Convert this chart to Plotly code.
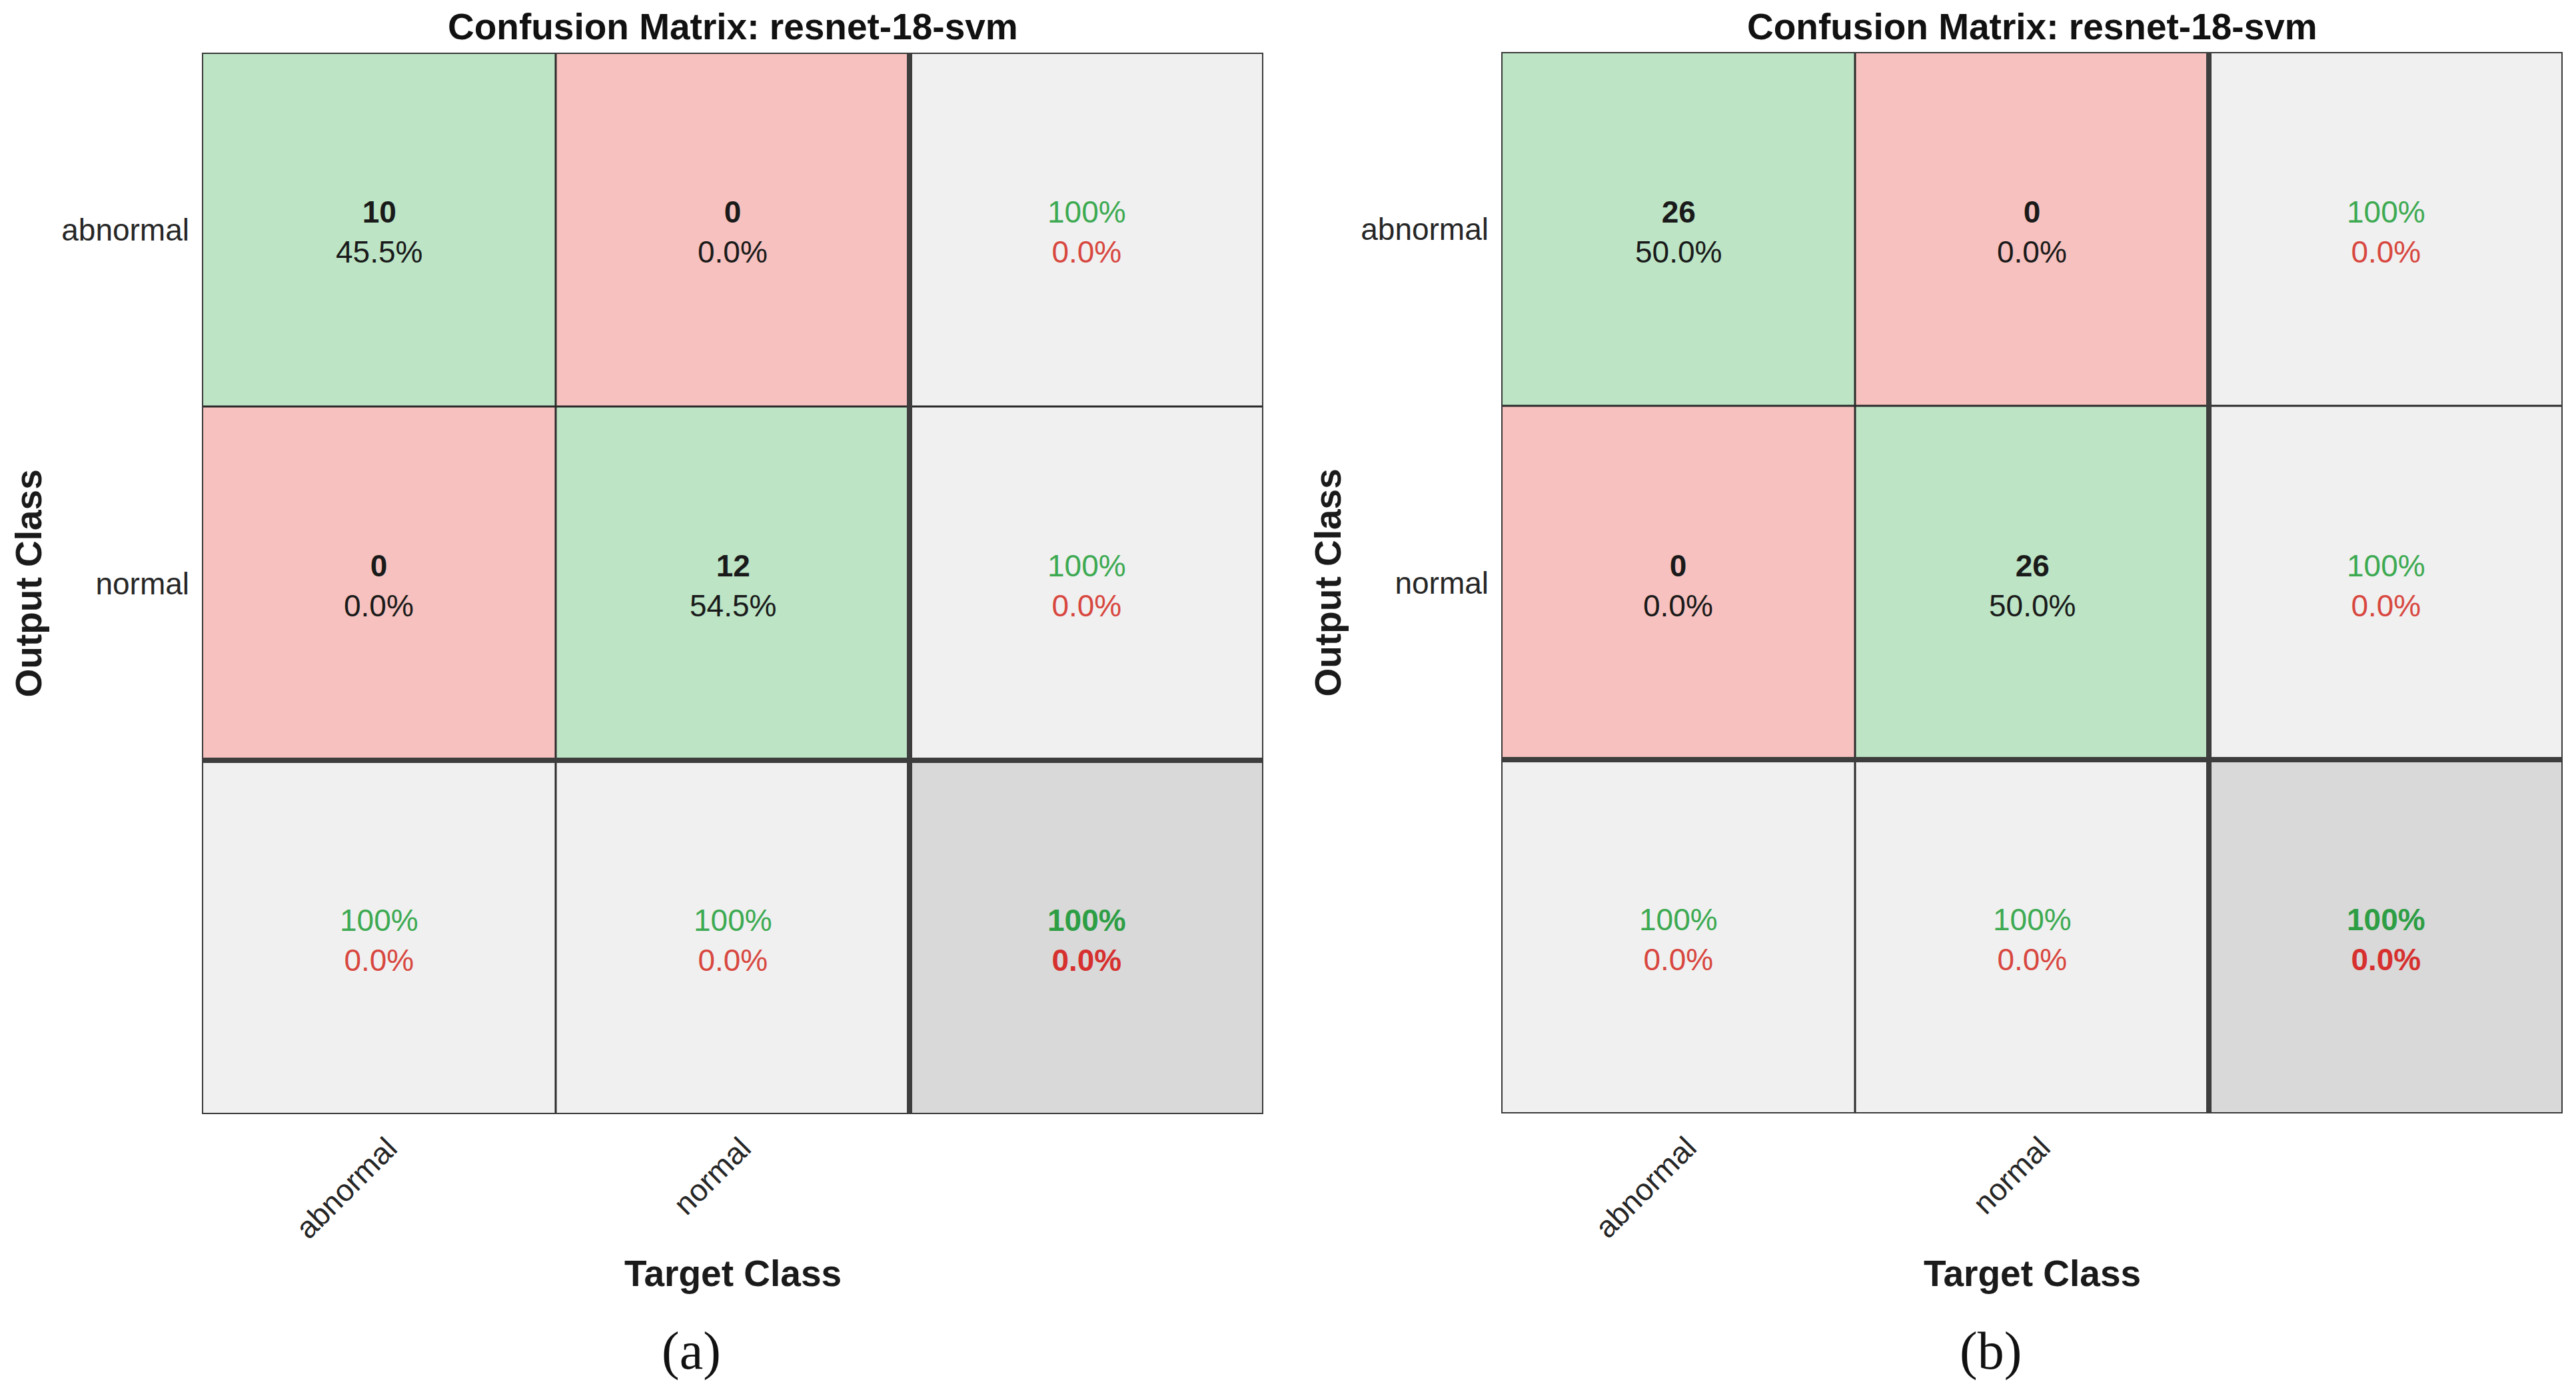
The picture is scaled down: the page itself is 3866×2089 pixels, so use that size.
import plotly.graph_objects as go

# ---------------- data ----------------
classes = ["abnormal", "normal"]
cm_a = [[10, 0], [0, 12]]   # rows: output class, cols: target class
cm_b = [[26, 0], [0, 26]]
chart_titles = ["Confusion Matrix: resnet-18-svm", "Confusion Matrix: resnet-18-svm"]
panel_labels = ["(a)", "(b)"]
x_title = "Target Class"
y_title = "Output Class"

# ---------------- style ----------------
W, H = 3866, 2089
GREEN_BG = "#BCE4C5"
RED_BG = "#F6C1BE"
LGRAY_BG = "#F0F0F0"
DGRAY_BG = "#D9D9D9"
GREEN_TX = "#3DAA52"
RED_TX = "#D8473F"
FONT = "Liberation Sans, Arial, sans-serif"

# panel pixel boxes (left, right, top, bottom)
boxes = [(303, 1896, 79, 1672), (2253, 3846, 78, 1671)]


def fmt_pct(v):
    return "100%" if abs(v - 100) < 1e-9 else f"{v:.1f}%"


def build_cells(cm):
    n = len(cm)
    total = sum(sum(r) for r in cm)
    codes = [[0] * (n + 1) for _ in range(n + 1)]
    texts = [[""] * (n + 1) for _ in range(n + 1)]
    for i in range(n):
        for j in range(n):
            codes[i][j] = 0 if i == j else 1
            texts[i][j] = f"<b>{cm[i][j]}</b><br>{cm[i][j] / total * 100:.1f}%"
    for i in range(n):
        row = sum(cm[i])
        p = cm[i][i] / row * 100 if row else 0
        codes[i][n] = 2
        texts[i][n] = (f"<span style='color:{GREEN_TX}'>{fmt_pct(p)}</span><br>"
                       f"<span style='color:{RED_TX}'>{fmt_pct(100 - p)}</span>")
    for j in range(n):
        col = sum(cm[i][j] for i in range(n))
        r = cm[j][j] / col * 100 if col else 0
        codes[n][j] = 2
        texts[n][j] = (f"<span style='color:{GREEN_TX}'>{fmt_pct(r)}</span><br>"
                       f"<span style='color:{RED_TX}'>{fmt_pct(100 - r)}</span>")
    acc = sum(cm[i][i] for i in range(n)) / total * 100
    codes[n][n] = 3
    texts[n][n] = (f"<b><span style='color:#2E9E45'>{fmt_pct(acc)}</span></b><br>"
                   f"<b><span style='color:#D6312F'>{fmt_pct(100 - acc)}</span></b>")
    return codes, texts


colorscale = [[0, GREEN_BG], [0.25, GREEN_BG], [0.25, RED_BG], [0.5, RED_BG],
              [0.5, LGRAY_BG], [0.75, LGRAY_BG], [0.75, DGRAY_BG], [1, DGRAY_BG]]

fig = go.Figure()
annotations = []
shapes = []

for k, cm in enumerate([cm_a, cm_b]):
    n = len(cm)
    codes, texts = build_cells(cm)
    idx = list(range(n + 1))
    xa = "x" if k == 0 else "x2"
    ya = "y" if k == 0 else "y2"
    fig.add_trace(go.Heatmap(z=codes, x=idx, y=idx, colorscale=colorscale,
                             zmin=0, zmax=3, showscale=False, hoverinfo="skip",
                             xaxis=xa, yaxis=ya))
    for i in range(n + 1):
        for j in range(n + 1):
            annotations.append(dict(x=j, y=i, xref=xa, yref=ya, text=texts[i][j],
                                    showarrow=False, yshift=-4,
                                    font=dict(family=FONT, size=46, color="#1a1a1a")))
    # grid lines
    lo, hi = -0.5, n + 0.5
    for b in range(1, n + 1):
        pos = b - 0.5
        thick = (b == n)
        lw = 8 if thick else 3
        lc = "#3d3d3d" if thick else "#2a2a2a"
        shapes.append(dict(type="line", xref=xa, yref=ya, x0=pos, x1=pos, y0=lo, y1=hi,
                           line=dict(color=lc, width=lw), layer="above"))
        shapes.append(dict(type="line", xref=xa, yref=ya, x0=lo, x1=hi, y0=pos, y1=pos,
                           line=dict(color=lc, width=lw), layer="above"))
    shapes.append(dict(type="rect", xref=xa, yref=ya, x0=lo, x1=hi, y0=lo, y1=hi,
                       line=dict(color="#3a3a3a", width=4), layer="above"))

    L, R, T, B = boxes[k]
    cx = (L + R) / 2 / W
    axis_common = dict(showgrid=False, zeroline=False, showline=False, ticks="",
                       tickfont=dict(family=FONT, size=46, color="#262626"),
                       fixedrange=True)
    xkey = "xaxis" if k == 0 else "xaxis2"
    ykey = "yaxis" if k == 0 else "yaxis2"
    fig.update_layout(**{
        xkey: dict(domain=[L / W, R / W], range=[lo, hi], tickvals=idx[:n],
                   ticktext=classes, tickangle=-45, anchor=ya, ticklabelstandoff=14,
                   ticklabelshift=14, **axis_common),
        ykey: dict(domain=[1 - B / H, 1 - T / H], range=[hi, lo], tickvals=idx[:n],
                   ticktext=classes, anchor=xa, ticklabelstandoff=18, **axis_common),
    })
    # titles
    annotations.append(dict(x=cx, y=1 - 40 / H, xref="paper", yref="paper",
                            text=f"<b>{chart_titles[k]}</b>", showarrow=False,
                            xanchor="center", yanchor="middle",
                            font=dict(family=FONT, size=55, color="#111111")))
    annotations.append(dict(x=cx, y=1 - 1911 / H, xref="paper", yref="paper",
                            text=f"<b>{x_title}</b>", showarrow=False,
                            xanchor="center", yanchor="middle",
                            font=dict(family=FONT, size=55, color="#1a1a1a")))
    annotations.append(dict(x=(L - 261) / W, y=1 - (T + B) / 2 / H, xref="paper", yref="paper",
                            text=f"<b>{y_title}</b>", showarrow=False, textangle=-90,
                            xanchor="center", yanchor="middle",
                            font=dict(family=FONT, size=55, color="#1a1a1a")))
    annotations.append(dict(x=(L + R) / 2 / W - 62 / W, y=1 - 2027 / H, xref="paper", yref="paper",
                            text=panel_labels[k], showarrow=False,
                            xanchor="center", yanchor="middle",
                            font=dict(family="Liberation Serif, Times New Roman, serif",
                                      size=80, color="#111111")))

fig.update_layout(width=W, height=H, margin=dict(l=0, r=0, t=0, b=0),
                  paper_bgcolor="white", plot_bgcolor="white",
                  annotations=annotations, shapes=shapes, showlegend=False)

fig.write_html("out.html", config={"displayModeBar": False},
               post_script="document.body.style.margin='0';")
